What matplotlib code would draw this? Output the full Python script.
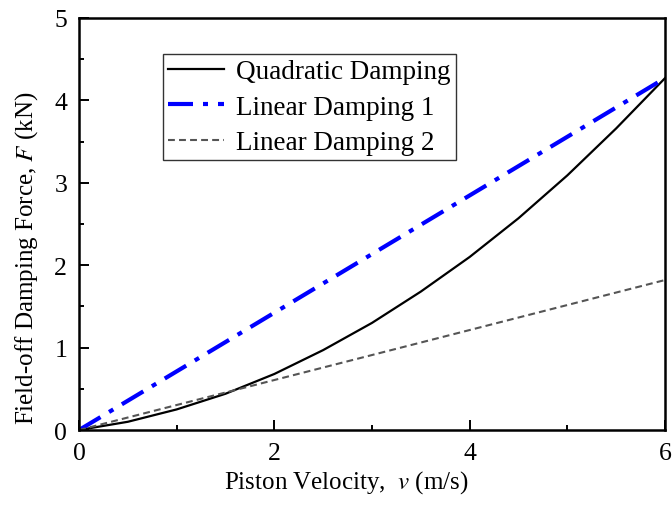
import numpy as np
import matplotlib
matplotlib.use("Agg")
import matplotlib.pyplot as plt
from matplotlib.ticker import MultipleLocator

plt.rcParams['font.family'] = ['Liberation Serif', 'DejaVu Serif']
plt.rcParams['mathtext.fontset'] = 'stix'

# values
v_quad = [0.0, 0.5, 1.0, 1.5, 2.0, 2.5, 3.0, 3.5, 4.0, 4.5, 5.0, 5.5, 6.0]
f_quad = [0.0, 0.10, 0.25, 0.44, 0.68, 0.97, 1.30, 1.68, 2.10, 2.57, 3.09, 3.66, 4.27]
v_lin = [0.0, 6.0]
f_lin1 = [0.0, 4.27]
f_lin2 = [0.0, 1.82]

fig = plt.figure(figsize=(6.72, 5.06), dpi=100)
ax = fig.add_axes([0.1176, 0.1482, 0.872, 0.8143])

ax.plot(v_quad, f_quad, color='black', lw=1.6, label='Quadratic Damping')
ax.plot(v_lin, f_lin1, color='#0000ff', lw=3.0, dashes=(6, 2.4, 1.2, 2.4),
        label='Linear Damping 1')
ax.plot(v_lin, f_lin2, color='#555555', lw=1.5, dashes=(3.3, 2),
        label='Linear Damping 2')

ax.set_xlim(0, 6)
ax.set_ylim(0, 5)
ax.xaxis.set_major_locator(MultipleLocator(2))
ax.xaxis.set_minor_locator(MultipleLocator(1))
ax.yaxis.set_major_locator(MultipleLocator(1))
ax.yaxis.set_minor_locator(MultipleLocator(0.5))
ax.tick_params(which='both', direction='in', top=False, right=False,
               labelsize=18.5, width=1.4, pad=8.5)
ax.tick_params(which='major', length=7)
ax.tick_params(which='minor', length=3.8)
for s in ax.spines.values():
    s.set_linewidth(1.8)

ax.set_xlabel('Piston Velocity,  $v$ (m/s)', fontsize=18)
ax.set_ylabel('Field-off Damping Force, $F$ (kN)', fontsize=18)
ax.xaxis.set_label_coords(0.456, -0.092)
ax.yaxis.set_label_coords(-0.067, 0.42)

leg = ax.legend(loc='upper left', bbox_to_anchor=(0.1433, 0.9126),
                borderaxespad=0, fancybox=False, edgecolor='black',
                fontsize=19.5, handlelength=2.05, labelspacing=0.38,
                borderpad=0.2, handletextpad=0.45)
leg.get_frame().set_linewidth(1.0)

fig.savefig('out.png', dpi=100)
